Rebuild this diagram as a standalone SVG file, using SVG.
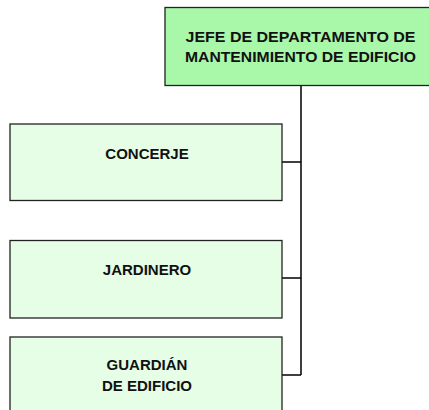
<svg xmlns="http://www.w3.org/2000/svg" width="429" height="410" viewBox="0 0 429 410">
<style>
.box{stroke:#222;stroke-width:1.3}
.sub{fill:#e6fde6}
.top{fill:#a9f7a9}
text{font-family:"Liberation Sans",Arial,sans-serif;font-weight:bold;font-size:15px;fill:#111;text-anchor:middle}
.conn{stroke:#000;stroke-width:1.5;fill:none}
</style>
<rect width="429" height="410" fill="#fff"/>
<g id="connectors">
<path class="conn" d="M301 86 V375 M282 162 H301 M282 278 H301 M282 375 H301"/>
</g>
<g id="jefe">
<rect class="box top" x="165" y="7.5" width="270" height="78"/>
<text x="300.5" y="41.5" textLength="230" lengthAdjust="spacingAndGlyphs">JEFE DE DEPARTAMENTO DE</text>
<text x="300.5" y="61.5" textLength="231" lengthAdjust="spacingAndGlyphs">MANTENIMIENTO DE EDIFICIO</text>
</g>
<g id="concerje">
<rect class="box sub" x="10" y="124" width="272" height="76.5"/>
<text x="147" y="158.5">CONCERJE</text>
</g>
<g id="jardinero">
<rect class="box sub" x="10" y="240.5" width="272" height="77.5"/>
<text x="147" y="275">JARDINERO</text>
</g>
<g id="guardian">
<rect class="box sub" x="10" y="337" width="272" height="80"/>
<text x="147" y="370">GUARDIÁN</text>
<text x="147" y="391">DE EDIFICIO</text>
</g>
</svg>
